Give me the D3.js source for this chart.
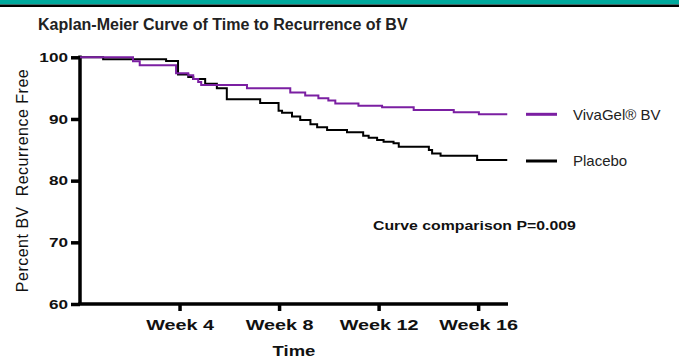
<!DOCTYPE html>
<html lang="en">
<head>
    <meta charset="UTF-8">
    <title>Kaplan-Meier Curve of Time to Recurrence of BV</title>
    <script src="https://d3js.org/d3.v7.min.js"></script>
    <style>
        body { margin: 0; background: #fff; }
        svg { display: block; font-family: Arial, "Liberation Sans", sans-serif; }
        .axis path, .axis line { stroke: #000; stroke-width: 3.5px; }
        .axis text { font-weight: bold; fill: #111; }
    </style>
</head>
<body>

    <svg width="679" height="364"></svg>

    <script>
        // Survival steps (week, percent recurrence free)
        const vivaWeeks = [0, 2.13, 2.40, 3.86, 4.35, 4.55, 4.75, 4.87, 6.71, 8.45, 9.05, 9.58, 9.98, 10.26, 11.19, 12.14, 13.41, 15.02, 16.03, 17.17];
        const vivaPct = [100, 99.35, 98.7, 97.4, 97.1, 96.5, 96.0, 95.5, 95.0, 94.3, 93.8, 93.35, 93.0, 92.5, 92.15, 91.9, 91.45, 91.1, 90.76, 90.76];

        const placeboWeeks = [0, 0.93, 3.46, 3.94, 4.35, 4.55, 5.03, 5.5, 5.9, 7.24, 7.98, 8.12, 8.52, 8.85, 9.26, 9.53, 9.93, 10.73, 11.38, 11.6, 11.94, 12.2, 12.6, 12.81, 14.02, 14.15, 14.49, 15.96, 17.17];
        const placeboPct = [100, 99.7, 99.4, 97.2, 96.8, 96.5, 95.7, 95.0, 93.2, 92.6, 91.35, 91.0, 90.4, 89.85, 89.15, 88.65, 88.2, 87.85, 87.3, 86.97, 86.6, 86.3, 86.05, 85.5, 84.97, 84.4, 84.05, 83.35, 83.35];

        const xTicks = [4, 8, 12, 16];
        const yTicks = [60, 70, 80, 90, 100];

        const seriesNames = ['VivaGel® BV', 'Placebo'];
        const seriesColors = ['#7b1fa2', '#000000'];

        // the bold labels in the original are stretched sideways
        const stretch = 1.32;

        const svg = d3.select('svg');

        // header band
        svg.append('rect').attr('x', 0).attr('y', 0).attr('width', 679).attr('height', 4.5).attr('fill', '#00a99d');
        svg.append('rect').attr('x', 0).attr('y', 4.5).attr('width', 679).attr('height', 2.5).attr('fill', '#000');

        svg.append('text')
            .attr('x', 38).attr('y', 30)
            .style('font-size', '16px').style('font-weight', 'bold').attr('fill', '#222')
            .text('Kaplan-Meier Curve of Time to Recurrence of BV');

        const x = d3.scaleLinear().domain([0, 17.2]).range([80, 508]);
        const y = d3.scaleLinear().domain([60, 100]).range([304, 57.3]);

        // axes
        const xAxis = svg.append('g')
            .attr('class', 'axis')
            .attr('transform', 'translate(0,304)')
            .call(d3.axisBottom(x).tickValues(xTicks).tickSize(7).tickSizeOuter(0).tickFormat(d => 'Week ' + d));
        xAxis.selectAll('text')
            .attr('y', 26.5).attr('dy', 0)
            .attr('transform', `scale(${stretch},1)`)
            .style('font-size', '15px');

        const yAxis = svg.append('g')
            .attr('class', 'axis')
            .attr('transform', 'translate(80,0)')
            .call(d3.axisLeft(y).tickValues(yTicks).tickSize(9).tickSizeOuter(0));
        yAxis.selectAll('text')
            .attr('x', -12 / stretch)
            .attr('transform', `scale(${stretch},1)`)
            .style('font-size', '13px');
        yAxis.select('.domain').attr('d', 'M0,304V55.5');
        xAxis.select('.domain').attr('d', 'M78.25,0H508');

        svg.append('text')
            .attr('transform', `translate(294,356) scale(${stretch},1)`)
            .attr('text-anchor', 'middle')
            .style('font-size', '14px').style('font-weight', 'bold')
            .attr('fill', '#111')
            .text('Time');

        svg.append('text')
            .attr('transform', 'translate(28,180.5) rotate(-90)')
            .attr('text-anchor', 'middle')
            .style('font-size', '16px').style('letter-spacing', '0.5px')
            .attr('fill', '#111')
            .style('white-space', 'pre')
            .text('Percent BV  Recurrence Free');

        // curves
        const line = d3.line()
            .x(d => x(d[0]))
            .y(d => y(d[1]))
            .curve(d3.curveStepAfter);

        const placeboData = d3.zip(placeboWeeks, placeboPct);
        const vivaData = d3.zip(vivaWeeks, vivaPct);

        svg.append('path')
            .datum(placeboData)
            .attr('fill', 'none')
            .attr('stroke', seriesColors[1])
            .attr('stroke-width', 2)
            .attr('d', line);

        svg.append('path')
            .datum(vivaData)
            .attr('fill', 'none')
            .attr('stroke', seriesColors[0])
            .attr('stroke-width', 2)
            .attr('d', line);

        // legend
        const legendY = [114.3, 161];
        seriesNames.forEach((name, i) => {
            svg.append('line')
                .attr('x1', 526).attr('x2', 557)
                .attr('y1', legendY[i]).attr('y2', legendY[i])
                .attr('stroke', seriesColors[i]).attr('stroke-width', 3);
            svg.append('text')
                .attr('x', 573).attr('y', legendY[i] + 5.4)
                .style('font-size', '15px').attr('fill', '#222')
                .text(name);
        });

        svg.append('text')
            .attr('transform', `translate(373,230) scale(${stretch},1)`)
            .style('font-size', '12px').style('font-weight', 'bold')
            .attr('fill', '#111')
            .text('Curve comparison P=0.009');
    </script>
</body>
</html>
